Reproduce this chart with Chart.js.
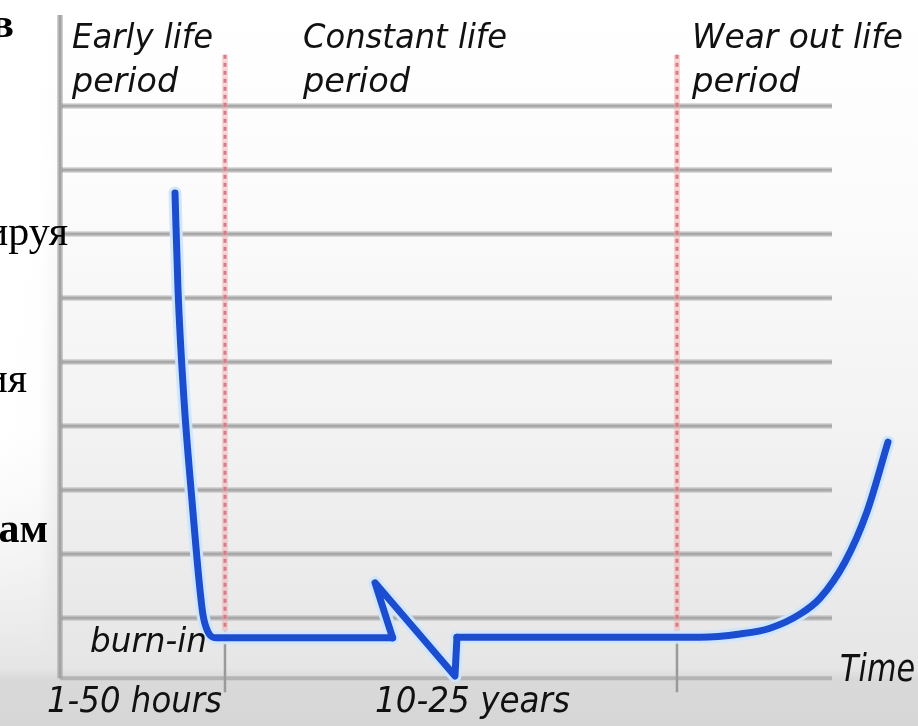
<!DOCTYPE html>
<html><head><meta charset="utf-8">
<script src="https://cdn.jsdelivr.net/npm/chart.js@4.4.0/dist/chart.umd.min.js"></script>
<style>
html,body{margin:0;padding:0;background:#fff;}
#wrap{position:relative;width:918px;height:726px;overflow:hidden;}
#c{position:absolute;left:0;top:0;}
.ru{position:absolute;font-family:"Liberation Serif","Times New Roman",serif;font-size:42px;color:#000;white-space:nowrap;line-height:42px;}
</style></head><body>
<div id="wrap">
<canvas id="c" width="918" height="726"></canvas>
<div class="ru" style="right:904px;top:2px;font-weight:bold;">в</div>
<div class="ru" style="right:850px;top:210px;">ируя</div>
<div class="ru" style="right:891px;top:357px;">ия</div>
<div class="ru" style="right:870px;top:507px;font-weight:bold;">ам</div>
</div>
<script>
// ---- data (time in arbitrary units 0..100, failure rate in arbitrary units 0..10)
// early-life drop (burn-in)
const earlyX  = [13.69, 14.05, 14.76, 15.71, 16.55, 17.02, 17.62, 18.57, 39.6];
const earlyY  = [7.64, 6.125, 4.41, 2.84, 1.59, 1.05, 0.78, 0.69, 0.69];
// axis break (zig-zag) in the constant-life period
const breakX  = [39.6, 37.5, 47.02, 47.26];
const breakY  = [0.69, 1.55, 0.094, 0.70];
// constant life + wear-out rise
const wearX   = [47.26, 76.19, 80.95, 84.52, 88.1, 90.48, 93.45, 96.07, 98.57];
const wearY   = [0.70, 0.70, 0.75, 0.84, 1.06, 1.31, 1.875, 2.66, 3.75];

const gridLevels  = [1, 2, 3, 4, 5, 6, 7, 8, 9];
const periodBounds = [19.64, 73.45];          // boundaries between periods
const periodNames  = ['Early life', 'Constant life', 'Wear out life'];
const periodWord   = 'period';
const axisLabels   = ['1-50 hours', '10-25 years'];
const burnInLabel  = 'burn-in';
const timeLabel    = 'Time';

const pts = (xs, ys) => xs.map((x, i) => ({x, y: ys[i]}));
const LINE = '#1b4dd3', GLOW = 'rgba(205,230,255,0.95)';
function seg(data, mode, glow) {
  return {
    data, order: glow ? 1 : 0,
    borderColor: glow ? GLOW : LINE, borderWidth: glow ? 13 : 7,
    pointRadius: 0, tension: 0,
    cubicInterpolationMode: mode,
    borderJoinStyle: 'round', borderCapStyle: 'round'
  };
}

const bgPlugin = {
  id: 'bg',
  beforeDraw(chart) {
    const ctx = chart.ctx, W = chart.width, H = chart.height;
    ctx.save();
    const g = ctx.createLinearGradient(0, 0, 0, H);
    g.addColorStop(0, '#ffffff');
    g.addColorStop(0.25, '#fcfcfc');
    g.addColorStop(0.6, '#f2f2f2');
    g.addColorStop(0.92, '#e6e6e6');
    g.addColorStop(0.935, '#d9d9d9');
    g.addColorStop(1, '#d6d6d6');
    ctx.fillStyle = g;
    ctx.fillRect(0, 0, W, H);
    for (let y = 0; y < 660; y += 4) {
      const a = y < 430 ? 1 : Math.max(0, 1 - (y - 430) / 230);
      const h = ctx.createLinearGradient(0, 0, 56, 0);
      h.addColorStop(0, 'rgba(255,255,255,' + a + ')');
      h.addColorStop(0.7, 'rgba(255,255,255,' + (a * 0.9) + ')');
      h.addColorStop(1, 'rgba(255,255,255,0)');
      ctx.fillStyle = h;
      ctx.fillRect(0, y, 56, 4);
    }
    ctx.restore();
  }
};

const gridPlugin = {
  id: 'grid',
  beforeDatasetsDraw(chart, args, o) {
    const ctx = chart.ctx, xs = chart.scales.x, ys = chart.scales.y;
    ctx.save();
    const x0 = xs.getPixelForValue(0), x1 = xs.getPixelForValue(o.gridEnd);
    gridLevels.forEach(v => {
      const y = ys.getPixelForValue(v);
      ctx.strokeStyle = 'rgba(170,170,170,0.4)';
      ctx.lineWidth = 6;
      ctx.beginPath(); ctx.moveTo(x0, y); ctx.lineTo(x1, y); ctx.stroke();
      ctx.strokeStyle = '#a8a8a8';
      ctx.lineWidth = 3;
      ctx.beginPath(); ctx.moveTo(x0, y); ctx.lineTo(x1, y); ctx.stroke();
    });
    const yb = ys.getPixelForValue(o.bottomLine);
    ctx.strokeStyle = '#b4b4b4'; ctx.lineWidth = 4;
    ctx.beginPath(); ctx.moveTo(x0, yb); ctx.lineTo(x1, yb); ctx.stroke();
    ctx.strokeStyle = 'rgba(160,160,160,0.5)'; ctx.lineWidth = 6;
    ctx.beginPath(); ctx.moveTo(x0, ys.getPixelForValue(o.axisTop)); ctx.lineTo(x0, yb); ctx.stroke();
    ctx.strokeStyle = '#a3a3a3'; ctx.lineWidth = 3;
    ctx.beginPath(); ctx.moveTo(x0, ys.getPixelForValue(o.axisTop)); ctx.lineTo(x0, yb); ctx.stroke();
    periodBounds.forEach(b => {
      const x = xs.getPixelForValue(b);
      const yt = ys.getPixelForValue(o.redTop), ym = ys.getPixelForValue(o.redBottom), ye = ys.getPixelForValue(o.tickBottom);
      ctx.setLineDash([]);
      ctx.strokeStyle = 'rgba(240,170,175,0.45)'; ctx.lineWidth = 6;
      ctx.beginPath(); ctx.moveTo(x, yt); ctx.lineTo(x, ym); ctx.stroke();
      ctx.setLineDash([4, 4]);
      ctx.strokeStyle = '#dc7a82'; ctx.lineWidth = 3;
      ctx.beginPath(); ctx.moveTo(x, yt); ctx.lineTo(x, ym); ctx.stroke();
      ctx.setLineDash([]);
      ctx.strokeStyle = '#9a9a9a'; ctx.lineWidth = 2.5;
      ctx.beginPath(); ctx.moveTo(x, ym); ctx.lineTo(x, ye); ctx.stroke();
    });
    ctx.restore();
  }
};

const textPlugin = {
  id: 'labels',
  afterDatasetsDraw(chart, args, o) {
    const ctx = chart.ctx, xs = chart.scales.x, ys = chart.scales.y;
    ctx.save();
    ctx.fillStyle = '#111';
    ctx.textBaseline = 'alphabetic';
    ctx.textAlign = 'left';
    o.items.forEach(it => {
      ctx.font = 'italic ' + it.size + 'px "DejaVu Sans", sans-serif';
      const m = ctx.measureText(it.text).width;
      const sx = it.w / m;
      ctx.save();
      ctx.translate(xs.getPixelForValue(it.x), ys.getPixelForValue(it.y));
      ctx.scale(sx, 1);
      ctx.fillText(it.text, 0, 0);
      ctx.restore();
    });
    ctx.restore();
  }
};

const early = pts(earlyX, earlyY), brk = pts(breakX, breakY), wear = pts(wearX, wearY);

new Chart(document.getElementById('c'), {
  type: 'line',
  data: {
    datasets: [
      seg(early, 'monotone', false), seg(brk, 'default', false), seg(wear, 'monotone', false),
      seg(early, 'monotone', true),  seg(brk, 'default', true),  seg(wear, 'monotone', true)
    ]
  },
  options: {
    responsive: false,
    animation: false,
    events: [],
    layout: { padding: { left: 60, right: 18, top: 42, bottom: 44 }, autoPadding: false },
    scales: {
      x: { type: 'linear', min: 0, max: 100, display: false },
      y: { type: 'linear', min: 0, max: 10, display: false }
    },
    plugins: {
      legend: { display: false },
      tooltip: { enabled: false },
      grid: { gridEnd: 91.9, bottomLine: 0.06, axisTop: 10.42, redTop: 9.8, redBottom: 0.8, tickBottom: -0.16 },
      labels: {
        items: [
          { text: periodNames[0], x: 1.43, y: 9.906, w: 141, size: 33 },
          { text: periodWord,     x: 1.43, y: 9.22,  w: 106, size: 33 },
          { text: periodNames[1], x: 28.93, y: 9.906, w: 204, size: 33 },
          { text: periodWord,     x: 28.93, y: 9.22,  w: 107, size: 33 },
          { text: periodNames[2], x: 75.24, y: 9.906, w: 211, size: 33 },
          { text: periodWord,     x: 75.24, y: 9.22,  w: 108, size: 33 },
          { text: burnInLabel,    x: 3.57, y: 0.47, w: 117, size: 33 },
          { text: axisLabels[0],  x: -1.55, y: -0.47, w: 175, size: 35 },
          { text: axisLabels[1],  x: 37.5, y: -0.47, w: 195, size: 35 },
          { text: timeLabel,      x: 92.86, y: 0.016, w: 75, size: 37 }
        ]
      }
    }
  },
  plugins: [bgPlugin, gridPlugin, textPlugin]
});
</script>
</body></html>
